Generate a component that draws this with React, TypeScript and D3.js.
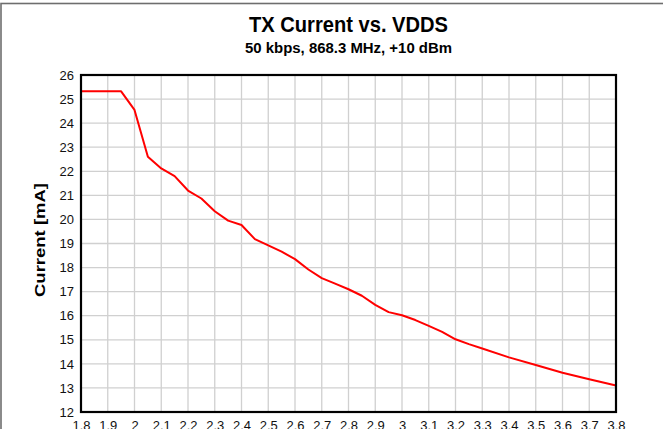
import React, { useEffect, useRef } from "react";
import * as d3 from "d3";

const vdds = [
  1.8, 1.85, 1.9, 1.95, 2.0, 2.05, 2.1, 2.15, 2.2, 2.25, 2.3, 2.35, 2.4, 2.45,
  2.5, 2.55, 2.6, 2.65, 2.7, 2.75, 2.8, 2.85, 2.9, 2.95, 3.0, 3.05, 3.1, 3.15,
  3.2, 3.25, 3.3, 3.4, 3.5, 3.6, 3.7, 3.8,
];
const current = [
  25.33, 25.33, 25.32, 25.32, 24.55, 22.6, 22.12, 21.8, 21.2, 20.87, 20.34,
  19.95, 19.77, 19.18, 18.92, 18.66, 18.35, 17.92, 17.56, 17.33, 17.1, 16.83,
  16.45, 16.15, 16.02, 15.82, 15.58, 15.33, 15.02, 14.82, 14.64, 14.27, 13.95,
  13.63, 13.36, 13.1,
];
const xTicks = d3.range(18, 39).map((d) => d / 10);
const yTicks = d3.range(12, 27);

const title = "TX Current vs. VDDS";
const subtitle = "50 kbps, 868.3 MHz, +10 dBm";
const yLabel = "Current [mA]";

const App: React.FC = () => {
  const svgRef = useRef<SVGSVGElement | null>(null);

  useEffect(() => {
    const width = 663;
    const height = 429;
    const margin = { top: 75, right: 47, bottom: 17, left: 81 };
    const font = "'Liberation Sans', Arial, Helvetica, sans-serif";

    d3.select(svgRef.current).selectAll("*").remove();
    const svg = d3
      .select(svgRef.current)
      .attr("width", width)
      .attr("height", height)
      .style("font-family", font);

    const x = d3
      .scaleLinear()
      .domain([1.8, 3.8])
      .range([margin.left, width - margin.right]);
    const y = d3
      .scaleLinear()
      .domain([12, 26])
      .range([height - margin.bottom, margin.top]);

    // outer frame, cropped at right and bottom
    svg
      .append("rect")
      .attr("x", 1)
      .attr("y", 3.5)
      .attr("width", 800)
      .attr("height", 600)
      .attr("fill", "none")
      .attr("stroke", "#6e6e6e")
      .attr("stroke-width", 1.6);

    svg
      .append("text")
      .attr("x", (x.range()[0] + x.range()[1]) / 2)
      .attr("y", 32)
      .attr("text-anchor", "middle")
      .attr("font-size", 22)
      .attr("font-weight", "bold")
      .attr("textLength", 199)
      .attr("lengthAdjust", "spacingAndGlyphs")
      .text(title);

    svg
      .append("text")
      .attr("x", (x.range()[0] + x.range()[1]) / 2)
      .attr("y", 53)
      .attr("text-anchor", "middle")
      .attr("font-size", 14)
      .attr("font-weight", "bold")
      .attr("textLength", 207)
      .attr("lengthAdjust", "spacingAndGlyphs")
      .text(subtitle);

    // grid
    const grid = svg.append("g").attr("stroke", "#d0d0d0").attr("stroke-width", 1.3);
    grid
      .selectAll("line.v")
      .data(xTicks)
      .join("line")
      .attr("x1", (d) => x(d))
      .attr("x2", (d) => x(d))
      .attr("y1", y(26))
      .attr("y2", y(12));
    grid
      .selectAll("line.h")
      .data(yTicks)
      .join("line")
      .attr("x1", x(1.8))
      .attr("x2", x(3.8))
      .attr("y1", (d) => y(d))
      .attr("y2", (d) => y(d));

    svg
      .append("g")
      .attr("transform", `translate(${margin.left},0)`)
      .call(d3.axisLeft(y).tickValues(yTicks).tickSize(0).tickPadding(7))
      .call((g) => g.select(".domain").remove())
      .selectAll("text")
      .attr("font-size", 13)
      .attr("font-family", font)
      .attr("fill", "#111");

    svg
      .append("g")
      .attr("transform", `translate(0,${height - margin.bottom})`)
      .call(
        d3
          .axisBottom(x)
          .tickValues(xTicks)
          .tickSize(0)
          .tickPadding(9)
          .tickFormat((d: any) => d3.format("~g")(d))
      )
      .call((g) => g.select(".domain").remove())
      .selectAll("text")
      .attr("font-size", 13)
      .attr("font-family", font)
      .attr("fill", "#111");

    svg
      .append("text")
      .attr("transform", `translate(45,240) rotate(-90)`)
      .attr("text-anchor", "middle")
      .attr("font-size", 15)
      .attr("font-weight", "bold")
      .attr("textLength", 114)
      .attr("lengthAdjust", "spacingAndGlyphs")
      .text(yLabel);

    const line = d3
      .line<number>()
      .x((d) => x(d))
      .y((_, i) => y(current[i]));

    svg
      .append("path")
      .datum(vdds)
      .attr("fill", "none")
      .attr("stroke", "#ff0000")
      .attr("stroke-width", 2)
      .attr("stroke-linejoin", "round")
      .attr("d", line);

    // plot frame
    svg
      .append("rect")
      .attr("x", x(1.8))
      .attr("y", y(26))
      .attr("width", x(3.8) - x(1.8))
      .attr("height", y(12) - y(26))
      .attr("fill", "none")
      .attr("stroke", "#000")
      .attr("stroke-width", 2.2);
  }, []);

  return (
    <svg
      ref={svgRef}
      style={{ position: "absolute", left: 0, top: 0, background: "#fff" }}
    ></svg>
  );
};

export default App;
